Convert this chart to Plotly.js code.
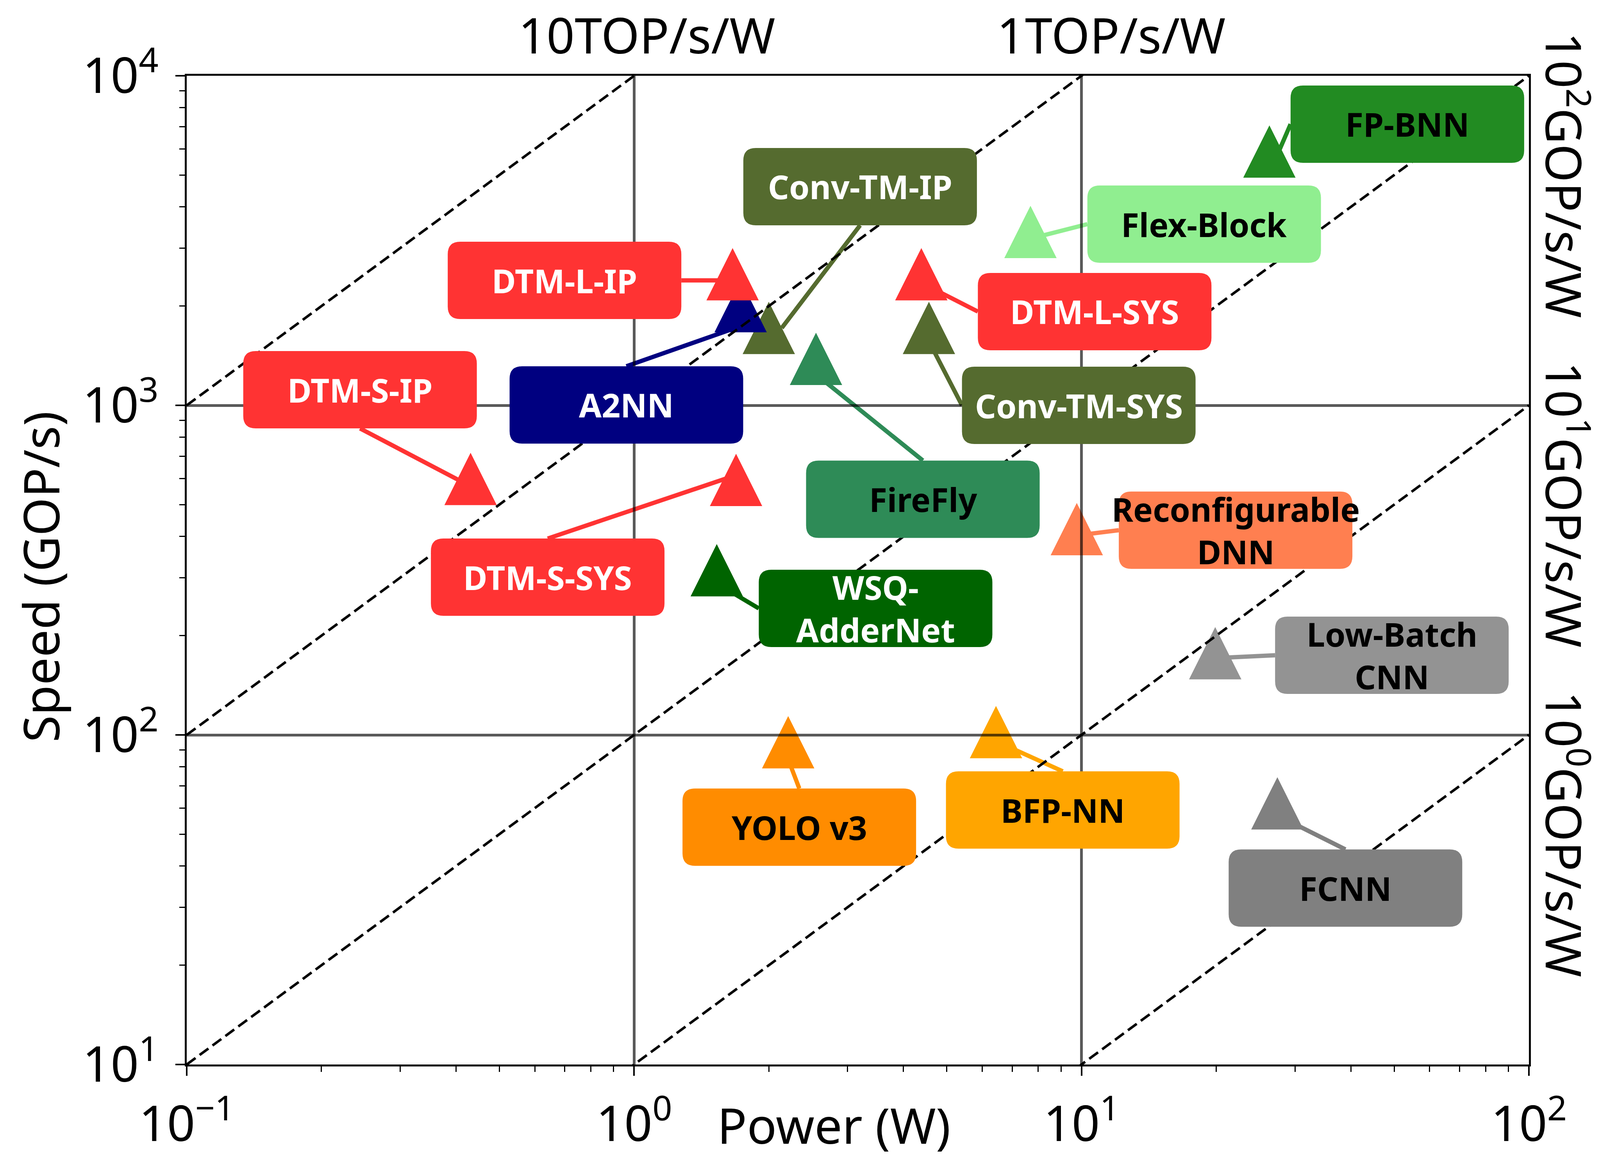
<!DOCTYPE html>
<html>
<head>
<meta charset="utf-8">
<script src="https://cdn.plot.ly/plotly-3.0.1.min.js"></script>
<style>
html,body{margin:0;padding:0;background:#ffffff;}
#chart{width:4124px;height:2968px;}
</style>
</head>
<body>
<div id="chart"></div>
<script>
// ---------------- data ----------------
// drawing order matters for overlapping markers (Conv-TM-IP under A2NN under DTM-L-IP)
const designs = ['Conv-TM-IP','A2NN','DTM-L-IP','DTM-S-IP','DTM-L-SYS','Conv-TM-SYS','Flex-Block','FP-BNN',
                 'FireFly','Reconfigurable<br>DNN','DTM-S-SYS','WSQ-<br>AdderNet','Low-Batch<br>CNN','YOLO v3','BFP-NN','FCNN'];
const powerW    = [2.0, 1.73, 1.66, 0.431, 4.385, 4.56, 7.69, 26.3, 2.55, 9.76, 1.69, 1.53, 19.9, 2.21, 6.44, 27.4];
const speedGOPS = [1717, 2000, 2500, 598, 2500, 1717, 3357, 5890, 1384, 421, 594, 316, 177, 95, 102, 62];

// label box centres (data coordinates)
const labelPower = [3.20, 0.961, 0.699, 0.244, 10.7, 9.86, 18.8, 53.5, 4.42, 22.1, 0.641, 3.465, 49.4, 2.34, 9.08, 38.9];
const labelSpeed = [4609, 1003, 2394, 1115, 1925, 1000, 3546, 7131, 519, 418, 301, 242, 174.5, 52.5, 59.2, 34.3];

// where each connector line points (data coordinates)
const arrowPower = [2.138, 1.731, 1.66, 0.431, 4.385, 4.40, 7.69, 27.6, 2.553, 9.76, 1.69, 1.526, 19.9, 2.138, 6.44, 27.4];
const arrowSpeed = [1717, 1740, 2394, 568, 2355, 1717, 3205, 5890, 1240, 403, 614, 289, 171, 94.9, 95.7, 57.0];
const tailSide   = ['bottom','top','right','bottom','left','left','left','left','top','left','top','left','left','top','top','top'];

const boxColors  = ['#556B2F','#000080','#FF3333','#FF3333','#FF3333','#556B2F','#90EE90','#228B22',
                    '#2E8B57','#FF7F50','#FF3333','#006400','#939393','#FF8C00','#FFA500','#808080'];
const textColors = ['#ffffff','#ffffff','#ffffff','#ffffff','#ffffff','#ffffff','#000000','#000000',
                    '#000000','#000000','#ffffff','#ffffff','#000000','#000000','#000000','#000000'];

// iso-efficiency reference lines, GOP/s/W
const efficiencies = [1e4, 1e3, 1e2, 1e1, 1e0];
const topLabels = ['10TOP/s/W', '1TOP/s/W'];
const topLabelPaperX = [0.3428, 0.6889];
const sideLabels = ['10<sup>2</sup>GOP/s/W', '10<sup>1</sup>GOP/s/W', '10<sup>0</sup>GOP/s/W'];
const sideLabelSpeed = [5000, 500, 50];

const xTickVals = [0.1, 1, 10, 100];
const xTickText = ['10<sup>\u22121</sup>', '10<sup>0</sup>', '10<sup>1</sup>', '10<sup>2</sup>'];
const yTickVals = [10, 100, 1000, 10000];
const yTickText = ['10<sup>1</sup>', '10<sup>2</sup>', '10<sup>3</sup>', '10<sup>4</sup>'];
const minorMantissa = [2, 3, 4, 5, 6, 7, 8, 9];

// ---------------- layout geometry ----------------
const W = 4124, H = 2968;
const M = {l: 478, r: 210, t: 194, b: 242};
const plotW = W - M.l - M.r, plotH = H - M.t - M.b;
const pxPerDecX = plotW / 3, pxPerDecY = plotH / 3;
const BOX_W = 598, BOX_H = 198, BOX_R = 32;
const TRI = 67;
const FONT = 'Noto Sans';

function minorVals(decades){
  const out = [];
  decades.forEach(d => minorMantissa.forEach(m => out.push(m * d)));
  return out;
}
function roundedRect(w, h, r){
  const x = w/2, y = h/2;
  return `M${-x+r},${-y} L${x-r},${-y} Q${x},${-y} ${x},${-y+r} L${x},${y-r} Q${x},${y} ${x-r},${y} ` +
         `L${-x+r},${y} Q${-x},${y} ${-x},${y-r} L${-x},${-y+r} Q${-x},${-y} ${-x+r},${-y} Z`;
}

// ---------------- traces: dashed iso-efficiency lines ----------------
const traces = efficiencies.map(e => ({
  type: 'scatter', mode: 'lines',
  x: [0.1, 100], y: [e * 0.1, e * 100],
  line: {color: '#000000', width: 6.5, dash: '28px,13px'},
  hoverinfo: 'skip', showlegend: false
}));

// ---------------- shapes ----------------
const shapes = [];
// connector lines (below grid, like the reference)
designs.forEach((d, i) => {
  let lx = Math.log10(labelPower[i]), ly = Math.log10(labelSpeed[i]);
  if (tailSide[i] === 'left')   lx -= (BOX_W/2) / pxPerDecX;
  if (tailSide[i] === 'right')  lx += (BOX_W/2) / pxPerDecX;
  if (tailSide[i] === 'top')    ly += (BOX_H/2) / pxPerDecY;
  if (tailSide[i] === 'bottom') ly -= (BOX_H/2) / pxPerDecY;
  shapes.push({
    type: 'line', xref: 'x', yref: 'y', layer: 'below',
    x0: Math.pow(10, lx), y0: Math.pow(10, ly), x1: arrowPower[i], y1: arrowSpeed[i],
    line: {color: boxColors[i], width: 11}
  });
});
// triangle markers anchored at the data points
designs.forEach((d, i) => {
  shapes.push({
    type: 'path', xref: 'x', yref: 'y', layer: 'below',
    xsizemode: 'pixel', ysizemode: 'pixel',
    xanchor: powerW[i], yanchor: speedGOPS[i],
    path: `M0,${TRI} L${-TRI},${-TRI} L${TRI},${-TRI} Z`,
    fillcolor: boxColors[i], line: {width: 0}
  });
});
// rounded label boxes
designs.forEach((d, i) => {
  shapes.push({
    type: 'path', xref: 'x', yref: 'y', layer: 'above',
    xsizemode: 'pixel', ysizemode: 'pixel',
    xanchor: labelPower[i], yanchor: labelSpeed[i],
    path: roundedRect(BOX_W, BOX_H, BOX_R),
    fillcolor: boxColors[i], line: {width: 0}
  });
});

// ---------------- annotations ----------------
const annotations = [];
designs.forEach((d, i) => {
  annotations.push({
    text: d, xref: 'x', yref: 'y',
    x: Math.log10(labelPower[i]), y: Math.log10(labelSpeed[i]),
    showarrow: false, xanchor: 'center', yanchor: 'middle', align: 'center',
    font: {family: FONT, size: 84, weight: 700, color: textColors[i]}
  });
});
topLabels.forEach((t, i) => {
  annotations.push({
    text: t, xref: 'paper', yref: 'paper', x: topLabelPaperX[i], y: 1.0419,
    showarrow: false, xanchor: 'center', yanchor: 'middle',
    font: {family: FONT, size: 126, color: '#000000'}
  });
});
sideLabels.forEach((t, i) => {
  annotations.push({
    text: t, xref: 'paper', yref: 'y', x: 1.0285, y: Math.log10(sideLabelSpeed[i]),
    showarrow: false, xanchor: 'center', yanchor: 'middle', textangle: 90,
    font: {family: FONT, size: 126, color: '#000000'}
  });
});
annotations.push({
  text: 'Power (W)', xref: 'paper', yref: 'paper', x: 0.4822, y: -0.0608,
  showarrow: false, xanchor: 'center', yanchor: 'middle',
  font: {family: FONT, size: 126, color: '#000000'}
});
annotations.push({
  text: 'Speed (GOP/s)', xref: 'paper', yref: 'paper', x: -0.1091, y: 0.4933,
  showarrow: false, xanchor: 'center', yanchor: 'middle', textangle: -90,
  font: {family: FONT, size: 126, color: '#000000'}
});

// ---------------- axes ----------------
const axisCommon = {
  type: 'log', showgrid: true, gridcolor: 'rgba(0,0,0,0.65)', gridwidth: 7,
  zeroline: false, showline: true, linecolor: '#000000', linewidth: 5, mirror: true,
  ticks: 'outside', ticklen: 24, tickwidth: 4, tickcolor: '#000000',
  tickmode: 'array',
  tickfont: {family: FONT, size: 126, color: '#000000'}
};

const layout = {
  width: W, height: H,
  margin: M,
  paper_bgcolor: '#ffffff', plot_bgcolor: '#ffffff',
  showlegend: false,
  xaxis: Object.assign({}, axisCommon, {
    range: [-1, 2], tickvals: xTickVals, ticktext: xTickText, ticklabelstandoff: 16,
    minor: {tickmode: 'array', tickvals: minorVals([0.1, 1, 10]), ticks: 'outside', ticklen: 14,
            tickwidth: 3, tickcolor: '#000000', showgrid: false}
  }),
  yaxis: Object.assign({}, axisCommon, {
    range: [1, 4], tickvals: yTickVals, ticktext: yTickText, ticklabelstandoff: 18,
    minor: {tickmode: 'array', tickvals: minorVals([10, 100, 1000]), ticks: 'outside', ticklen: 14,
            tickwidth: 3, tickcolor: '#000000', showgrid: false}
  }),
  shapes: shapes,
  annotations: annotations
};

Plotly.newPlot('chart', traces, layout, {displayModeBar: false, responsive: false});
</script>
</body>
</html>
